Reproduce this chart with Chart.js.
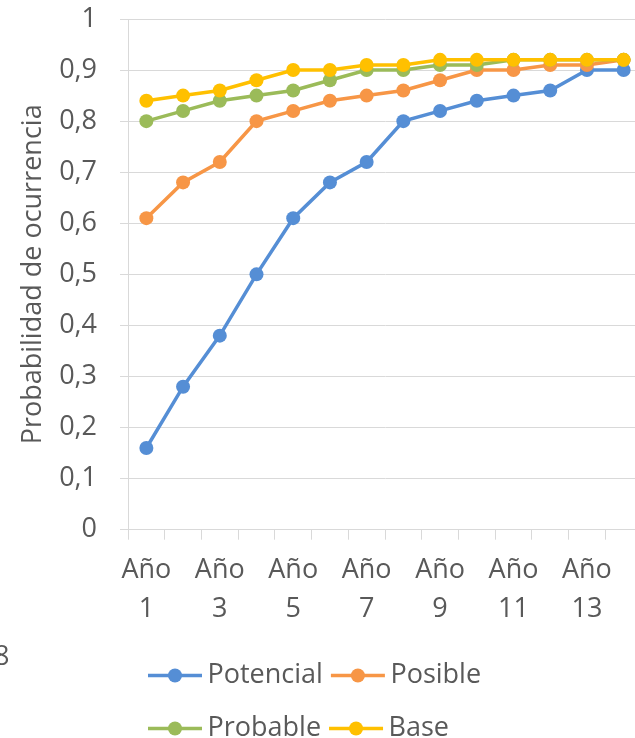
<!DOCTYPE html>
<html>
<head>
<meta charset="utf-8">
<title>Probabilidad de ocurrencia</title>
<script src="https://cdn.jsdelivr.net/npm/chart.js@4.4.1/dist/chart.umd.min.js"></script>
<style>
	html, body {
		margin: 0;
		padding: 0;
		background: #ffffff;
		overflow: hidden;
	}
	#content {
		position: relative;
		width: 649px;
		height: 761px;
	}
	.stray {
		position: absolute;
		left: -6px;
		top: 636px;
		font: 27px "Open Sans";
		color: #595959;
	}
</style>
</head>
<body>
<div id="content">
	<canvas id="chart" width="649" height="761"></canvas>
	<div class="stray">8</div>
</div>
<script>
const years = [
	"Año 1", "Año 2", "Año 3", "Año 4", "Año 5", "Año 6", "Año 7",
	"Año 8", "Año 9", "Año 10", "Año 11", "Año 12", "Año 13", "Año 14"
];
const seriesNames = ["Potencial", "Posible", "Probable", "Base"];
const seriesColors = ["#558ED5", "#F79646", "#9BBB59", "#FFC000"];
const potencial = [0.16, 0.28, 0.38, 0.50, 0.61, 0.68, 0.72, 0.80, 0.82, 0.84, 0.85, 0.86, 0.90, 0.90];
const posible = [0.61, 0.68, 0.72, 0.80, 0.82, 0.84, 0.85, 0.86, 0.88, 0.90, 0.90, 0.91, 0.91, 0.92];
const probable = [0.80, 0.82, 0.84, 0.85, 0.86, 0.88, 0.90, 0.90, 0.91, 0.91, 0.92, 0.92, 0.92, 0.92];
const base = [0.84, 0.85, 0.86, 0.88, 0.90, 0.90, 0.91, 0.91, 0.92, 0.92, 0.92, 0.92, 0.92, 0.92];
const yTickLabels = ["0", "0,1", "0,2", "0,3", "0,4", "0,5", "0,6", "0,7", "0,8", "0,9", "1"];
const yTitle = "Probabilidad de ocurrencia";

const textColor = "#595959";
const fontFamily = "\"Open Sans\", sans-serif";

class ChartPage {
	constructor() {
		this.chart = null;
		this.legendShift = 12;
		this.yAxisWidth = 128;
		this.plotTop = 19;
	}

	initialize() {
		const canvas = document.getElementById("chart");
		const context = canvas.getContext("2d");
		if (context === null) {
			throw new Error("Failed to create 2D context");
		}
		const values = [potencial, posible, probable, base];
		const datasets = seriesNames.map((name, i) => {
			return {
				label: name,
				data: values[i],
				borderColor: seriesColors[i],
				backgroundColor: seriesColors[i],
				pointBackgroundColor: seriesColors[i],
				pointBorderColor: seriesColors[i],
				borderWidth: 3.5,
				pointRadius: 7,
				pointBorderWidth: 0,
				tension: 0,
				// later series are painted over earlier ones
				order: seriesNames.length - i
			};
		});
		this.chart = new Chart(context, {
			type: "line",
			data: {
				labels: years,
				datasets: datasets
			},
			options: this.getOptions(),
			plugins: [this.getLegendPlugin()]
		});
	}

	getOptions() {
		return {
			responsive: false,
			animation: false,
			layout: {
				padding: 0
			},
			plugins: {
				tooltip: {
					enabled: false
				},
				legend: {
					position: "bottom",
					align: "start",
					fullSize: false,
					labels: {
						boxWidth: 46,
						boxHeight: 45,
						padding: 8,
						color: textColor,
						font: {
							family: fontFamily,
							size: 27
						},
						generateLabels: chart => {
							return chart.data.datasets.map((dataset, i) => {
								return {
									text: dataset.label,
									fillStyle: "rgba(0, 0, 0, 0)",
									strokeStyle: dataset.borderColor,
									lineWidth: 0,
									fontColor: textColor,
									hidden: false,
									datasetIndex: i
								};
							});
						}
					}
				}
			},
			scales: {
				x: {
					offset: true,
					grid: {
						offset: true,
						drawOnChartArea: false,
						drawTicks: true,
						tickLength: 10,
						color: "#D9D9D9"
					},
					border: {
						color: "#D9D9D9"
					},
					ticks: {
						autoSkip: false,
						maxRotation: 0,
						minRotation: 0,
						padding: 11,
						color: textColor,
						font: {
							family: fontFamily,
							size: 27,
							lineHeight: 1.45
						},
						callback: (value, index) => {
							if (index % 2 !== 0) {
								return "";
							}
							return years[index].split(" ");
						}
					},
					afterFit: scale => {
						scale.height += 5;
					}
				},
				y: {
					min: 0,
					max: 1,
					grid: {
						color: "#D9D9D9",
						tickLength: 8
					},
					border: {
						color: "#D9D9D9"
					},
					ticks: {
						stepSize: 0.1,
						padding: 23,
						color: textColor,
						font: {
							family: fontFamily,
							size: 27
						},
						callback: (value, index) => yTickLabels[index]
					},
					title: {
						display: true,
						text: yTitle,
						color: textColor,
						padding: {
							top: 17,
							bottom: 10
						},
						font: {
							family: fontFamily,
							size: 27,
							lineHeight: 1.2
						}
					},
					afterFit: scale => {
						scale.width = this.yAxisWidth;
						scale.paddingTop = this.plotTop;
					}
				}
			}
		};
	}

	getLegendPlugin() {
		return {
			id: "legendMarkers",
			afterLayout: chart => {
				// legend rows start a bit right of the plot edge
				const legend = chart.legend;
				legend.left += this.legendShift;
				legend.right += this.legendShift;
			},
			afterDraw: chart => {
				const legend = chart.legend;
				const ctx = chart.ctx;
				legend.legendHitBoxes.forEach((box, i) => {
					const item = legend.legendItems[i];
					const color = seriesColors[item.datasetIndex];
					const y = box.top + box.height / 2;
					ctx.save();
					ctx.strokeStyle = color;
					ctx.fillStyle = color;
					ctx.lineWidth = 3.5;
					ctx.beginPath();
					ctx.moveTo(box.left, y);
					ctx.lineTo(box.left + 54, y);
					ctx.stroke();
					ctx.beginPath();
					ctx.arc(box.left + 27, y, 7, 0, Math.PI * 2);
					ctx.fill();
					ctx.restore();
				});
			}
		};
	}
}

document.fonts.ready.then(() => {
	const page = new ChartPage();
	page.initialize();
});
</script>
</body>
</html>
